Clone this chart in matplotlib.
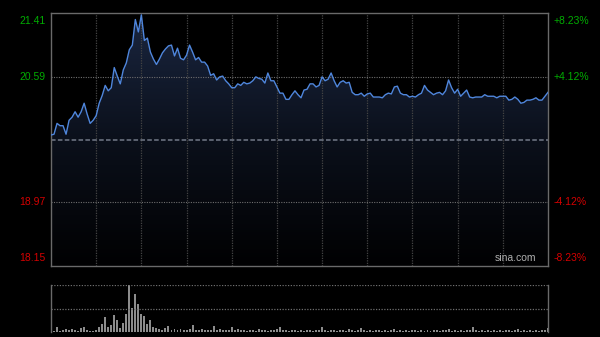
import numpy as np
import matplotlib
matplotlib.use('Agg')
import matplotlib.pyplot as plt
from matplotlib.colors import LinearSegmentedColormap

plt.rcParams['font.family'] = ['Liberation Sans', 'DejaVu Sans']

# intraday price, one value every 2 minutes (HK session, 330 minutes)
prices = [
    19.84, 19.85, 19.99, 19.96, 19.96, 19.85, 20.03, 20.07, 20.14, 20.07,
    20.14, 20.25, 20.11, 19.99, 20.03, 20.09, 20.25, 20.35, 20.48, 20.41,
    20.45, 20.71, 20.60, 20.50, 20.68, 20.77, 20.94, 21.00, 21.33, 21.17,
    21.39, 21.06, 21.09, 20.91, 20.82, 20.75, 20.82, 20.90, 20.95, 20.99,
    21.00, 20.86, 20.96, 20.83, 20.81, 20.87, 21.00, 20.91, 20.81, 20.84,
    20.78, 20.78, 20.73, 20.61, 20.63, 20.55, 20.59, 20.60, 20.54, 20.50,
    20.45, 20.45, 20.50, 20.48, 20.52, 20.50, 20.51, 20.54, 20.59, 20.57,
    20.56, 20.51, 20.64, 20.54, 20.54, 20.46, 20.38, 20.38, 20.30, 20.30,
    20.36, 20.41, 20.36, 20.32, 20.42, 20.43, 20.50, 20.50, 20.46, 20.48,
    20.59, 20.54, 20.56, 20.64, 20.54, 20.46, 20.52, 20.54, 20.51, 20.52,
    20.39, 20.36, 20.36, 20.38, 20.34, 20.37, 20.38, 20.33, 20.33, 20.33,
    20.32, 20.36, 20.38, 20.37, 20.46, 20.47, 20.38, 20.36, 20.36, 20.33,
    20.34, 20.33, 20.36, 20.38, 20.48, 20.42, 20.39, 20.36, 20.38, 20.39,
    20.36, 20.41, 20.55, 20.45, 20.38, 20.43, 20.34, 20.38, 20.42, 20.33,
    20.32, 20.33, 20.33, 20.33, 20.36, 20.34, 20.34, 20.34, 20.32, 20.34,
    20.34, 20.34, 20.29, 20.30, 20.33, 20.30, 20.25, 20.26, 20.29, 20.29,
    20.30, 20.32, 20.29, 20.29, 20.34, 20.39,
]

volumes = [
    20, 10, 50, 10, 20, 30, 20, 30, 20, 10, 40, 50, 20, 10, 10, 20,
    50, 80, 150, 50, 70, 170, 120, 40, 90, 180, 470, 240, 380, 280, 180, 160, 80, 120, 50, 40,
    30, 20, 40, 60, 20, 30, 20, 30, 20, 20,
    30, 70, 20, 20, 30, 20, 20, 20, 60, 20,
    30, 20, 20, 20, 50, 20, 30, 20, 20, 10,
    20, 20, 10, 30, 20, 20, 10, 20, 20, 30,
    50, 20, 20, 10, 20, 20, 10, 20, 10, 20,
    20, 10, 20, 20, 50, 20, 10, 20, 20, 10,
    20, 20, 10, 30, 20, 10, 20, 40, 20, 10,
    20, 10, 20, 20, 10, 20, 10, 20, 30, 10,
    20, 10, 20, 10, 20, 20, 10, 20, 10, 20,
    10, 20, 20, 10, 20, 20, 30, 10, 20, 10,
    20, 10, 20, 20, 50, 20, 10, 20, 10, 20,
    10, 20, 10, 20, 10, 20, 20, 10, 20, 30,
    10, 20, 10, 20, 10, 20, 10, 20, 20, 40,
]

prev_close = 19.78
price_ticks = [21.41, 20.59, 18.97, 18.15]
pct_labels = ['+8.23%', '+4.12%', '-4.12%', '-8.23%']
total_minutes = 330

minutes = np.arange(len(prices)) * 2
green, red = '#00ad00', '#d40000'

fig = plt.figure(figsize=(6, 3.37), dpi=100, facecolor='black')
ax = fig.add_axes([0.085, 0.2107, 0.8283, 0.7498], facecolor='black')
vax = fig.add_axes([0.085, 0.0148, 0.8283, 0.1395], facecolor='black')

lo, hi = price_ticks[-1], price_ticks[0]
ax.set_xlim(0, total_minutes)
ax.set_ylim(lo, hi)

# gradient area under the price line
poly = ax.fill_between(minutes, prices, lo, color='none', lw=0)
cmap = LinearSegmentedColormap.from_list('area', ['#010102', '#0b101b', '#1a2640'])
grad = np.linspace(0, 1, 256).reshape(-1, 1)
img = ax.imshow(grad, cmap=cmap, origin='lower', aspect='auto',
                extent=[0, total_minutes, lo, hi], zorder=1)
img.set_clip_path(poly.get_paths()[0], transform=ax.transData)

ax.plot(minutes, prices, color='#4f86dc', lw=1.0, zorder=3)

# grid
for t in range(30, total_minutes, 30):
    ax.axvline(t, color='#444444', lw=0.9, ls=(0, (1, 1)), zorder=2)
for p in (price_ticks[1], price_ticks[2]):
    ax.axhline(p, color='#6e6e6e', lw=0.8, ls=(0, (1, 1.2)), zorder=2)
ax.axhline(prev_close, color='#737a88', lw=1.1, ls=(0, (3, 1.5)), zorder=2)

ax.set_xticks([])
ax.set_yticks([])
for s in ax.spines.values():
    s.set_color('#6a6a6a')
    s.set_linewidth(1)

# price and percent labels
for p, lab, va, off in zip(price_ticks, pct_labels, ['top', 'center', 'center', 'bottom'],
                           [-2, 0, 0, 2]):
    c = green if p > prev_close else red
    ax.annotate(f'{p:.2f}', (0, p), xycoords=('axes fraction', 'data'),
                xytext=(-4, off), textcoords='offset points', ha='right', va=va,
                color=c, fontsize=7.5)
    ax.annotate(lab, (1, p), xycoords=('axes fraction', 'data'),
                xytext=(4, off), textcoords='offset points', ha='left', va=va,
                color=c, fontsize=7.5)

ax.text(0.935, 0.012, 'sina.com', transform=ax.transAxes, ha='center', va='bottom',
        color='#b0b0b0', fontsize=7.5, zorder=4)

# volume panel
vmax = max(volumes)
vax.bar(minutes, volumes, width=1.3, color='#8c8c8c', lw=0)
vax.set_xlim(0, total_minutes)
vax.set_ylim(0, vmax)
vax.axhline(vmax, color='#6e6e6e', lw=0.9, ls=(0, (1, 1.2)))
vax.axhline(vmax / 2, color='#6e6e6e', lw=0.9, ls=(0, (1, 1.2)))
vax.set_xticks([])
vax.set_yticks([])
for side in ('top', 'bottom'):
    vax.spines[side].set_visible(False)
for side in ('left', 'right'):
    vax.spines[side].set_color('#6a6a6a')
    vax.spines[side].set_linewidth(1)

fig.savefig('out.png', dpi=100, facecolor='black')
